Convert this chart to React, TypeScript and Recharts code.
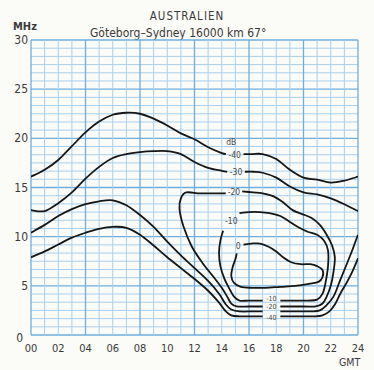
import { ComposedChart, Line, ReferenceLine, Scatter, XAxis, YAxis } from "recharts";

// hours GMT on the x axis, MHz on the y axis
const xTicks = [0, 2, 4, 6, 8, 10, 12, 14, 16, 18, 20, 22, 24];
const yTicks = [0, 5, 10, 15, 20, 25, 30];

// contour lines in dB, [hour, MHz]; a null MHz leaves a gap for a label
type Pt = [number, number | null];

const upper40: Pt[] = [
  [0, 16.1], [1, 16.8], [2, 17.8], [3, 19.2], [4, 20.6], [5, 21.7], [6, 22.4], [7, 22.6],
  [8, 22.5], [9, 22.0], [10, 21.3], [11, 20.5], [12, 19.9], [13, 19.1], [14, 18.5], [14.3, 18.4],
  [14.9, null],
  [15.6, 18.4], [16.2, 18.4], [17, 18.4], [18, 17.9], [19, 16.8], [20, 16.0], [21, 15.8],
  [22, 15.5], [23, 15.7], [24, 16.1]
];

const upper30: Pt[] = [
  [0, 12.7], [1, 12.6], [2, 13.4], [3, 14.5], [4, 15.9], [5, 17.1], [6, 18.0], [7, 18.4],
  [8, 18.6], [9, 18.7], [10, 18.7], [11, 18.4], [12, 17.6], [13, 17.0], [14, 16.7], [14.4, 16.6],
  [15, null],
  [15.7, 16.6], [16.3, 16.6], [17, 16.5], [18, 16.0], [19, 15.1], [20, 14.5], [21, 14.3],
  [22, 13.9], [23, 13.3], [24, 12.6]
];

const lower30: Pt[] = [
  [0, 10.4], [1, 11.2], [2, 12.1], [3, 12.8], [4, 13.3], [5, 13.6], [6, 13.7], [7, 13.2],
  [8, 12.2], [9, 11.0], [10, 9.5], [11, 8.1], [12, 6.8], [13, 5.5], [13.8, 4.2], [14.3, 3.1],
  [14.7, 2.6], [15.3, 2.4], [16.3, 2.4], [17.0, 2.4],
  [17.6, null],
  [18.3, 2.4], [19.5, 2.4], [20.7, 2.4], [21.2, 2.5], [21.6, 2.9], [22.2, 3.9], [22.7, 5.6],
  [23.2, 7.3], [23.6, 8.7], [24, 10.2]
];

const lower40: Pt[] = [
  [0, 7.9], [1, 8.5], [2, 9.2], [3, 9.9], [4, 10.4], [5, 10.8], [6, 11.0], [7, 10.9],
  [8, 10.2], [9, 9.1], [10, 7.9], [11, 6.8], [12, 5.7], [13, 4.5], [13.8, 3.3], [14.3, 2.4],
  [14.7, 2.0], [15.3, 1.9], [16.3, 1.9], [17.0, 1.9],
  [17.6, null],
  [18.3, 1.9], [19.5, 1.9], [20.8, 1.9], [21.4, 2.0], [21.9, 2.4], [22.3, 3.1], [22.7, 4.2],
  [23.2, 5.4], [23.6, 6.5], [24, 7.8]
];

const loop20: Pt[] = [
  [15.5, 14.6], [16.3, 14.5], [17, 14.4], [17.8, 14.1], [18.5, 13.5], [19.2, 12.7], [19.9, 12.3],
  [20.6, 11.9], [21.2, 11.2], [21.7, 10.2], [22.1, 9.1], [22.3, 7.9], [22.2, 6.4], [22.0, 5.0],
  [21.7, 3.9], [21.4, 3.2], [20.9, 2.9], [20, 2.9], [18.3, 2.9],
  [17.6, null],
  [17.0, 2.9], [16, 2.9], [15.1, 2.9], [14.7, 3.2], [14.4, 3.9], [14.0, 4.8], [13.4, 5.9],
  [12.6, 7.3], [11.8, 9.0], [11.2, 11.0], [10.9, 12.8], [11.0, 13.9], [11.4, 14.5], [12.4, 14.4],
  [13.4, 14.4], [14.3, 14.4]
];

const loop10: Pt[] = [
  [15.3, 12.4], [16, 12.5], [16.8, 12.5], [17.5, 12.4], [18.3, 12.1], [19, 11.5], [19.7, 10.9],
  [20.3, 10.5], [21, 10.2], [21.5, 9.6], [21.8, 8.6], [21.8, 7.0], [21.6, 5.2], [21.4, 4.2],
  [21.0, 3.6], [20.3, 3.5], [18.3, 3.5],
  [17.6, null],
  [17.0, 3.5], [16, 3.5], [15.3, 3.5], [14.9, 3.9], [14.6, 4.6], [14.2, 5.7], [13.9, 7.0],
  [13.8, 8.4], [13.9, 9.6], [14.1, 10.6]
];

const loop0: Pt[] = [
  [15.6, 9.2], [16.2, 9.3], [16.8, 9.3], [17.4, 9.0], [18.0, 8.5], [18.5, 7.9], [19.1, 7.4],
  [19.8, 7.2], [20.5, 7.2], [21.0, 7.0], [21.4, 6.6], [21.4, 5.9], [21.1, 5.4], [20.4, 5.2],
  [19.4, 5.0], [18.3, 4.9], [17.2, 4.8], [16.2, 4.8], [15.4, 4.9], [14.9, 5.3], [14.7, 6.0],
  [14.8, 6.9], [15.0, 7.7], [15.1, 8.3]
];

const labelText = ["dB", "-40", "-30", "-20", "-10", "0", "-10", "-20", "-40"];
const labelHour = [14.7, 14.95, 15.05, 14.9, 14.7, 15.2, 17.65, 17.65, 17.65];
const labelMHz = [19.6, 18.35, 16.6, 14.5, 11.6, 9.0, 3.75, 2.85, 1.75];
const labelSize = [8.5, 8.5, 8.5, 8.5, 8.5, 8.5, 7, 7, 7];

const contours = [upper40, upper30, lower30, lower40, loop20, loop10, loop0];

// graph paper: 1 h columns, 36 rows
const gridHours = Array.from({ length: 25 }, (_, i) => i);
const gridMHz = Array.from({ length: 37 }, (_, i) => (i * 5) / 6);

const W = 374;
const H = 370;
const PAPER = "#fbfbf8";
const INK = "#161616";
const TEXT = "#3a3a3a";
const FONT = "'DejaVu Sans Condensed', 'DejaVu Sans', sans-serif";

// uniform Catmull-Rom, passes through every point
function catmullRom(context: any) {
  let pts: number[][] = [];
  return {
    areaStart() {},
    areaEnd() {},
    lineStart() {
      pts = [];
    },
    point(x: number, y: number) {
      pts.push([x, y]);
    },
    lineEnd() {
      if (!pts.length) return;
      context.moveTo(pts[0][0], pts[0][1]);
      for (let i = 0; i < pts.length - 1; i++) {
        const p0 = pts[i - 1] || pts[i];
        const p1 = pts[i];
        const p2 = pts[i + 1];
        const p3 = pts[i + 2] || p2;
        context.bezierCurveTo(
          p1[0] + (p2[0] - p0[0]) / 6,
          p1[1] + (p2[1] - p0[1]) / 6,
          p2[0] - (p3[0] - p1[0]) / 6,
          p2[1] - (p3[1] - p1[1]) / 6,
          p2[0],
          p2[1]
        );
      }
    }
  };
}

const toData = (pts: Pt[]) => pts.map(([x, y]) => ({ x, y }));

function XTick({ x, y, payload }: any) {
  return (
    <text x={x} y={y + 9} textAnchor="middle" fontSize={11} fill={TEXT} fontFamily={FONT}>
      {String(payload.value).padStart(2, "0")}
    </text>
  );
}

function YTick({ y, payload }: any) {
  const zero = payload.value === 0;
  return (
    <text
      x={zero ? 23 : 28}
      y={y + (zero ? 7 : 4)}
      textAnchor="end"
      fontSize={12}
      fill={TEXT}
      fontFamily={FONT}
    >
      {payload.value}
    </text>
  );
}

function ContourLabel({ cx, cy, payload }: any) {
  return (
    <text
      x={cx}
      y={cy + payload.size * 0.35}
      textAnchor="middle"
      fontSize={payload.size}
      fill="#4a4a4a"
      fontFamily={FONT}
    >
      {payload.text}
    </text>
  );
}

export default function App() {
  const labels = labelText.map((text, i) => ({
    x: labelHour[i],
    y: labelMHz[i],
    text,
    size: labelSize[i]
  }));

  return (
    <div
      style={{
        position: "absolute",
        left: 0,
        top: 0,
        width: W,
        height: H,
        background: PAPER,
        fontFamily: FONT,
        color: TEXT
      }}
    >
      <div style={{ position: "absolute", left: 0, width: W, top: 9, textAlign: "center", fontSize: 11.5, letterSpacing: 1 }}>
        AUSTRALIEN
      </div>
      <div style={{ position: "absolute", left: 90, top: 26, fontSize: 12, whiteSpace: "nowrap" }}>
        Göteborg–Sydney 16000 km 67°
      </div>
      <div style={{ position: "absolute", left: 13, top: 20, fontSize: 11, fontWeight: "bold" }}>MHz</div>
      <div style={{ position: "absolute", left: 339, top: 356, fontSize: 10.5 }}>GMT</div>

      <ComposedChart width={W} height={H} margin={{ top: 40, right: 16, bottom: 5, left: 0 }}>
        <XAxis
          dataKey="x"
          type="number"
          domain={[0, 24]}
          ticks={xTicks}
          axisLine={false}
          tickLine={false}
          tick={<XTick />}
          height={30}
          allowDataOverflow
        />
        <YAxis
          type="number"
          domain={[0, 30]}
          ticks={yTicks}
          axisLine={false}
          tickLine={false}
          tick={<YTick />}
          width={31}
          allowDataOverflow
        />
        {gridMHz.map((v, i) => (
          <ReferenceLine
            key={`h-${i}`}
            y={v}
            stroke={i % 6 === 0 ? "#6eaedc" : "#a8d0ec"}
            strokeWidth={i % 6 === 0 ? 1.3 : 1}
            ifOverflow="extendDomain"
          />
        ))}
        {gridHours.map((h) => (
          <ReferenceLine
            key={`v-${h}`}
            x={h}
            stroke={h % 4 === 0 ? "#6eaedc" : "#a8d0ec"}
            strokeWidth={h % 4 === 0 ? 1.3 : 1}
          />
        ))}
        {contours.map((c, i) => (
          <Line
            key={`c-${i}`}
            data={toData(c)}
            dataKey="y"
            type={catmullRom as any}
            stroke={INK}
            strokeWidth={1.8}
            dot={false}
            activeDot={false}
            isAnimationActive={false}
          />
        ))}
        <Scatter data={labels} dataKey="y" shape={<ContourLabel />} isAnimationActive={false} />
      </ComposedChart>
    </div>
  );
}
